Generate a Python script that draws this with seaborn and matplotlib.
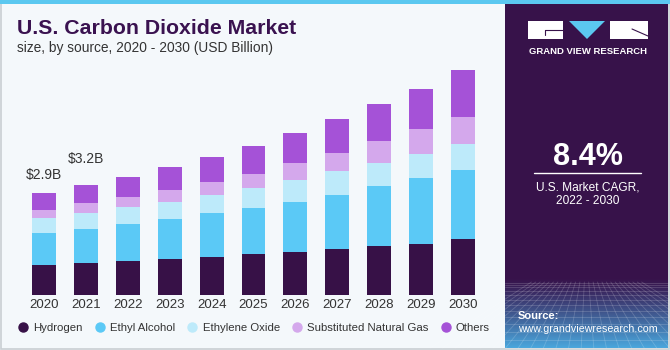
import matplotlib
matplotlib.use("Agg")
import matplotlib.pyplot as plt
from matplotlib.lines import Line2D
from matplotlib.patches import Rectangle, Polygon
import numpy as np
import pandas as pd
import seaborn as sns

# data (USD Billion)
years = ["2020", "2021", "2022", "2023", "2024", "2025", "2026", "2027", "2028", "2029", "2030"]
hydrogen = [0.86, 0.91, 0.96, 1.03, 1.08, 1.16, 1.22, 1.31, 1.41, 1.47, 1.59]
ethyl_alcohol = [0.92, 0.98, 1.06, 1.13, 1.26, 1.33, 1.45, 1.56, 1.70, 1.87, 1.98]
ethylene_oxide = [0.41, 0.45, 0.49, 0.50, 0.52, 0.57, 0.61, 0.66, 0.67, 0.70, 0.75]
natural_gas = [0.25, 0.28, 0.29, 0.33, 0.38, 0.41, 0.49, 0.53, 0.62, 0.70, 0.77]
others = [0.47, 0.52, 0.56, 0.66, 0.71, 0.78, 0.87, 0.97, 1.07, 1.16, 1.33]
segments = ["Hydrogen", "Ethyl Alcohol", "Ethylene Oxide", "Substituted Natural Gas", "Others"]
value_labels = ["$2.9B", "$3.2B"]
cagr = "8.4%"

colors = ["#371147", "#5BC9F6", "#BDEAFA", "#D4A8EC", "#A552D7"]
label_offsets = [13, 19]  # points above bar top

sns.set_style("white")
plt.rcParams["font.family"] = ["Liberation Sans", "DejaVu Sans"]

df = pd.DataFrame({"Year": years, "Hydrogen": hydrogen, "Ethyl Alcohol": ethyl_alcohol,
                   "Ethylene Oxide": ethylene_oxide, "Substituted Natural Gas": natural_gas,
                   "Others": others})
cum = df[segments].cumsum(axis=1)
cum["Year"] = df["Year"]

W, H = 670, 350
fig = plt.figure(figsize=(6.7, 3.5), dpi=100)
fig.patch.set_facecolor("#F4F8FB")

# background / decoration layer in pixel coordinates
bg = fig.add_axes([0, 0, 1, 1], zorder=0)
bg.set_xlim(0, W)
bg.set_ylim(H, 0)
bg.axis("off")
bg.add_patch(Rectangle((0.5, 0.5), W - 1.5, H - 1.5, fill=False, ec="#C9CED3", lw=1.2))
bg.add_patch(Rectangle((0, 0), W, 4, color="#5BC8F0", lw=0))

# right panel
bg.add_patch(Rectangle((505, 4), 163, 344, color="#37124A", lw=0))
n = 64
top_c = np.array([0x37, 0x12, 0x4A]) / 255
bot_c = np.array([0x4A, 0xA6, 0xDC]) / 255
t = np.linspace(0, 1, n) ** 1.1
grad = (top_c[None, :] * (1 - t[:, None]) + bot_c[None, :] * t[:, None])[:, None, :]
bg.imshow(grad, extent=(505, 668, 348, 278), aspect="auto", zorder=1)
# perspective mesh
for k in range(1, 14):
    yy = 282 + 66 * (k / 13) ** 1.7
    bg.plot([505, 668], [yy, yy], color="white", alpha=0.18, lw=0.6, zorder=2)
for xx in np.linspace(430, 745, 26):
    bg.plot([586 + (xx - 586) * 0.35, xx], [282, 348], color="white", alpha=0.18, lw=0.6, zorder=2)
bg.set_xlim(0, W)
bg.set_ylim(H, 0)

# logo
bg.add_patch(Rectangle((528, 21), 35, 18, color="white", lw=0, zorder=3))
bg.plot([545, 563], [30, 30], color="#37124A", lw=0.8, zorder=4)
bg.plot([545, 545], [30, 35], color="#37124A", lw=0.8, zorder=4)
bg.add_patch(Polygon([(569, 21), (605, 21), (587, 39)], closed=True, color="#5BC8F0", lw=0, zorder=3))
bg.add_patch(Rectangle((610, 21), 38, 18, color="white", lw=0, zorder=3))
bg.plot([632, 648], [29, 36], color="#37124A", lw=0.8, zorder=4)
bg.text(588, 51, "GRAND VIEW RESEARCH", color="white", fontsize=6.8, fontweight="bold",
        ha="center", va="center", zorder=4)

bg.text(588, 157, cagr, color="white", fontsize=22, fontweight="bold", ha="center", va="center")
bg.plot([534, 641], [173, 173], color="white", lw=1)
bg.text(588, 187, "U.S. Market CAGR,", color="white", fontsize=8.6, ha="center", va="center")
bg.text(588, 201, "2022 - 2030", color="white", fontsize=8.6, ha="center", va="center")
bg.text(518, 316, "Source:", color="white", fontsize=8, fontweight="bold", ha="left", va="center", zorder=4)
bg.text(518, 329, "www.grandviewresearch.com", color="white", fontsize=7.7, ha="left", va="center", zorder=4)

# titles
bg.text(17, 28, "U.S. Carbon Dioxide Market", color="#3A1250", fontsize=15.3, fontweight="bold",
        ha="left", va="center")
bg.text(17, 48, "size, by source, 2020 - 2030 (USD Billion)", color="#333333", fontsize=9.9,
        ha="left", va="center")

# stacked bars
ax = fig.add_axes([23 / W, 55 / H, 461 / W, 227.5 / H], zorder=1)
ax.patch.set_alpha(0)
for name, c in reversed(list(zip(segments, colors))):
    sns.barplot(data=cum, x="Year", y=name, color=c, saturation=1, width=0.57, ax=ax, linewidth=0)

totals = cum["Others"].tolist()
for i, (lab, off) in enumerate(zip(value_labels, label_offsets)):
    ax.annotate(lab, (i, totals[i]), xytext=(0, off), textcoords="offset points",
                ha="center", va="center", fontsize=10, color="#333333")

ax.set_xlim(-0.5, 10.5)
ax.set_ylim(0, 6.5)
ax.set_xlabel("")
ax.set_ylabel("")
ax.set_yticks([])
ax.tick_params(axis="x", length=0, pad=3, labelsize=9.5, labelcolor="#333333")
sns.despine(ax=ax, left=True, bottom=True)

handles = [Line2D([], [], marker="o", ls="", color=c, markersize=6.5) for c in colors]
fig.legend(handles, segments, loc="center left", bbox_to_anchor=(18.6 / W, 1 - 328 / H),
           ncol=5, frameon=False, fontsize=8.2, handlelength=0.8, handletextpad=0.5,
           columnspacing=1.1, labelcolor="#333333", borderaxespad=0, borderpad=0)

fig.savefig("out.png", dpi=100, facecolor=fig.get_facecolor())
